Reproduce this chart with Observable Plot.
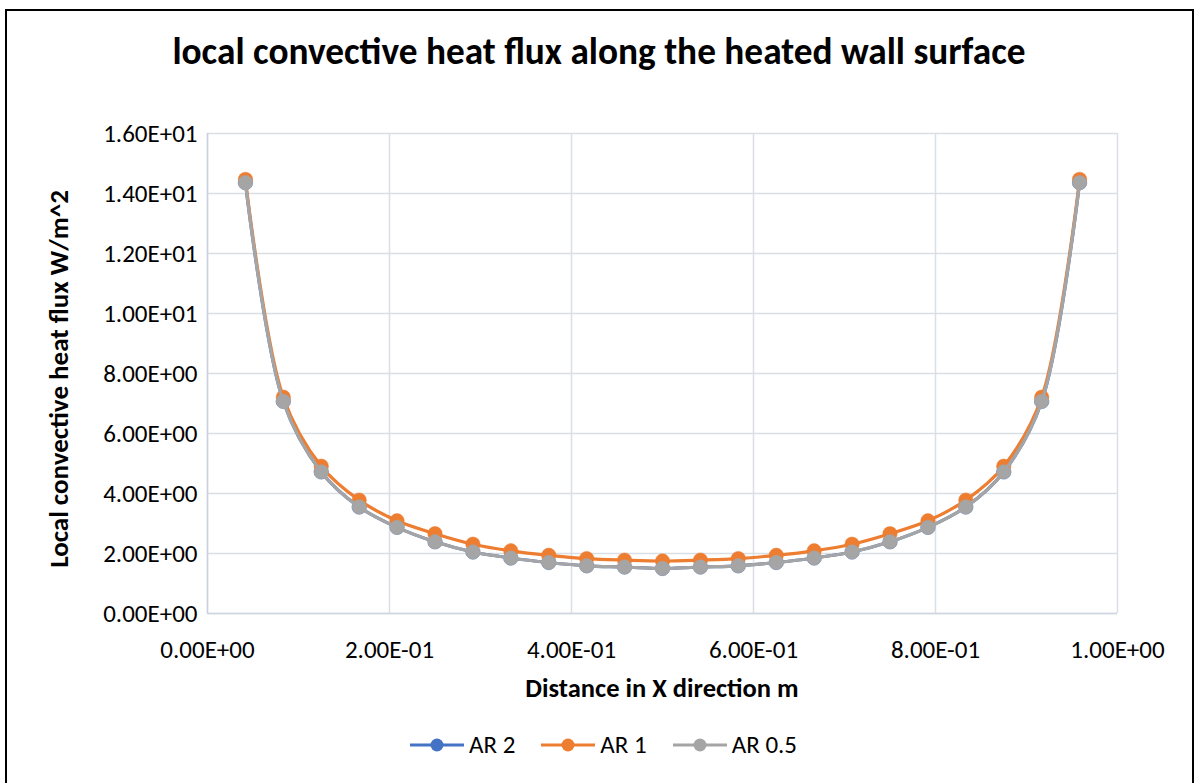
<!DOCTYPE html>
<html>
<head>
<meta charset="utf-8">
<script src="https://cdn.jsdelivr.net/npm/d3@7"></script>
<script src="https://cdn.jsdelivr.net/npm/@observablehq/plot@0.6"></script>
<style>
  html, body { margin: 0; padding: 0; background: #fff; }
  #wrap { position: relative; width: 1198px; height: 783px; overflow: hidden; font-family: Carlito, Calibri, Lato, sans-serif; color: #000; }
  #border { position: absolute; left: 5px; top: 9px; width: 1189px; height: 800px; border: 2px solid #000; box-sizing: border-box; }
  #title { position: absolute; left: 0; width: 1198px; top: 33px; line-height: 1; text-align: center; font-weight: bold; font-size: 37.3px; }
  #xtitle { position: absolute; left: 207px; width: 910px; top: 675px; line-height: 1; text-align: center; font-weight: bold; font-size: 26.5px; }
  #ytitle { position: absolute; left: 58px; top: 379px; line-height: 1; transform: translate(-50%, -50%) rotate(-90deg); white-space: nowrap; font-weight: bold; font-size: 27px; }
  #legend { position: absolute; left: 4px; width: 1198px; top: 730px; display: flex; justify-content: center; gap: 25px; font-size: 25px; line-height: 30px; }
  .item { display: flex; align-items: center; gap: 4px; }
  #chart { position: absolute; left: 0; top: 0; }
</style>
</head>
<body>
<div id="wrap">
  <div id="chart"></div>
  <div id="border"></div>
  <div id="title">local convective heat flux along the heated wall surface</div>
  <div id="ytitle">Local convective heat flux W/m^2</div>
  <div id="xtitle">Distance in X direction m</div>
  <div id="legend"></div>
</div>
<script>
// ---- data ----
const xDistance = [0.0417,0.0833,0.125,0.1667,0.2083,0.25,0.2917,0.3333,0.375,0.4167,0.4583,0.5,0.5417,0.5833,0.625,0.6667,0.7083,0.75,0.7917,0.8333,0.875,0.9167,0.9583];
const ar2  = [14.36,7.07,4.72,3.55,2.87,2.39,2.05,1.85,1.70,1.59,1.55,1.50,1.55,1.59,1.70,1.85,2.05,2.39,2.87,3.55,4.72,7.07,14.36];
const ar1  = [14.47,7.21,4.91,3.78,3.09,2.66,2.31,2.09,1.94,1.83,1.78,1.75,1.78,1.83,1.94,2.09,2.31,2.66,3.09,3.78,4.91,7.21,14.47];
const ar05 = [14.36,7.07,4.72,3.55,2.87,2.39,2.05,1.85,1.70,1.59,1.55,1.50,1.55,1.59,1.70,1.85,2.05,2.39,2.87,3.55,4.72,7.07,14.36];
const seriesNames = ["AR 2", "AR 1", "AR 0.5"];
const seriesColors = ["#4472C4", "#ED7D31", "#A5A5A5"];
const yTicks = [0, 2, 4, 6, 8, 10, 12, 14, 16];
const yTickLabels = ["0.00E+00","2.00E+00","4.00E+00","6.00E+00","8.00E+00","1.00E+01","1.20E+01","1.40E+01","1.60E+01"];
const xTicks = [0, 0.2, 0.4, 0.6, 0.8, 1.0];
const xTickLabels = ["0.00E+00","2.00E-01","4.00E-01","6.00E-01","8.00E-01","1.00E+00"];

const seriesValues = [ar2, ar1, ar05];
const rows = [];
seriesNames.forEach((name, s) => {
  xDistance.forEach((x, i) => rows.push({series: name, x, y: seriesValues[s][i]}));
});

const marks = [
  Plot.gridY(yTicks, {stroke: "#dadee5", strokeOpacity: 1, strokeWidth: 1.5}),
  Plot.gridX(xTicks, {stroke: "#dadee5", strokeOpacity: 1, strokeWidth: 1.5}),
  Plot.ruleY([0], {stroke: "#d0d6e0", strokeWidth: 1.5}),
  Plot.ruleX([0], {stroke: "#c9d1de", strokeWidth: 1.5}),
  Plot.axisY({ticks: yTicks, tickSize: 0, tickPadding: 10, tickFormat: v => yTickLabels[yTicks.indexOf(v)], fontSize: 25, label: null}),
  Plot.axisX({ticks: xTicks, tickSize: 0, tickPadding: 27, tickFormat: v => xTickLabels[xTicks.indexOf(v)], fontSize: 25, label: null})
];
seriesNames.forEach((name, s) => {
  const d = rows.filter(r => r.series === name);
  marks.push(Plot.line(d, {x: "x", y: "y", stroke: seriesColors[s], strokeWidth: 3.2, curve: "catmull-rom"}));
  marks.push(Plot.dot(d, {x: "x", y: "y", r: 7.2, fill: seriesColors[s], stroke: seriesColors[s], strokeWidth: 0.5}));
});

const chart = Plot.plot({
  width: 1198,
  height: 783,
  marginLeft: 207,
  marginRight: 81,
  marginTop: 133,
  marginBottom: 170,
  style: {fontFamily: "Carlito, Calibri, Lato, sans-serif", color: "#000", background: "transparent"},
  x: {domain: [0, 1]},
  y: {domain: [0, 16]},
  marks
});
document.getElementById("chart").appendChild(chart);

const legend = document.getElementById("legend");
seriesNames.forEach((name, s) => {
  const item = document.createElement("div");
  item.className = "item";
  item.innerHTML = `<svg width="56" height="16"><line x1="1" y1="8" x2="55" y2="8" stroke="${seriesColors[s]}" stroke-width="3"/><circle cx="28" cy="8" r="6.5" fill="${seriesColors[s]}"/></svg><span>${name}</span>`;
  legend.appendChild(item);
});
</script>
</body>
</html>
